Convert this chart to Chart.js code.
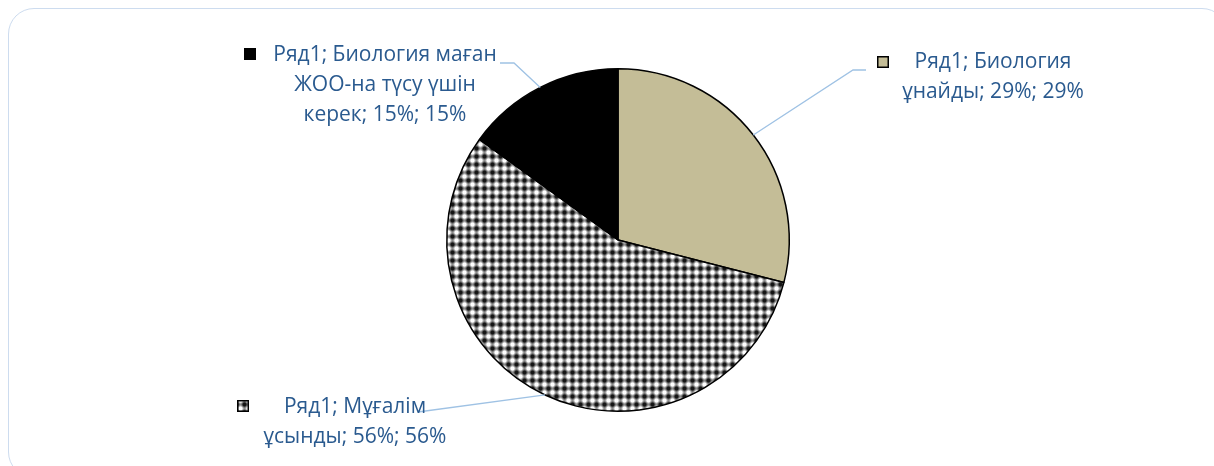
<!DOCTYPE html>
<html>
<head>
<meta charset="utf-8">
<script src="https://cdn.jsdelivr.net/npm/chart.js@4/dist/chart.umd.min.js"></script>
<style>
  html, body { margin: 0; padding: 0; background: #fff; }
  #wrap { position: relative; width: 1214px; height: 466px; overflow: hidden; }
  #frame { position: absolute; left: 8px; top: 8px; width: 1220px; height: 470px; box-sizing: border-box;
           border: 1.5px solid #cddcef; border-radius: 26px; }
  canvas { position: absolute; left: 0; top: 0; }
</style>
</head>
<body>
<div id="wrap">
  <div id="frame"></div>
  <canvas id="c" width="1214" height="466"></canvas>
</div>
<script>
const seriesName = "Ряд1";
const categories = ["Биология ұнайды", "Мұғалім ұсынды", "Биология маған ЖОО-на түсу үшін керек"];
const values = [29, 56, 15];
const percentLabels = ["29%", "56%", "15%"];
const labelLines = [
  ["Ряд1; Биология", "ұнайды; 29%; 29%"],
  ["Ряд1; Мұғалім", "ұсынды; 56%; 56%"],
  ["Ряд1; Биология маған", "ЖОО-на түсу үшін", "керек; 15%; 15%"]
];

function makePattern() {
  const n = 8;
  const t = document.createElement('canvas');
  t.width = n; t.height = n;
  const g = t.getContext('2d');
  const img = g.createImageData(n, n);
  for (let y = 0; y < n; y++) {
    for (let x = 0; x < n; x++) {
      const cx = Math.cos(2 * Math.PI * x / n), cy = Math.cos(2 * Math.PI * y / n);
      let v = 0.55 + 0.32 * (cx + cy);
      v = Math.max(0.08, Math.min(1, v));
      const c = Math.round(v * 255);
      const i = (y * n + x) * 4;
      img.data[i] = c; img.data[i + 1] = c; img.data[i + 2] = c; img.data[i + 3] = 255;
    }
  }
  g.putImageData(img, 0, 0);
  return document.getElementById('c').getContext('2d').createPattern(t, 'repeat');
}
const hatch = makePattern();
const colors = ['#c4bd97', hatch, '#000000'];

const labelFont = '21px "Open Sans", "Noto Sans", sans-serif';
const textColor = '#2a5a8f';
// layout of the outside labels (canvas pixels)
const labelLayout = [
  { cx: 993, y: 62, keyX: 877, keyY: 56, elbow: [[853, 70], [866, 70]] },
  { cx: 355, y: 407, keyX: 237, keyY: 400, elbow: [[418, 412]] },
  { cx: 385, y: 55, keyX: 244, keyY: 48, elbow: [[514, 63], [500, 63]] }
];

const labelPlugin = {
  id: 'outLabels',
  afterDatasetsDraw(chart) {
    const ctx = chart.ctx;
    const meta = chart.getDatasetMeta(0);
    ctx.save();
    meta.data.forEach((arc, i) => {
      const p = arc.getProps(['x', 'y', 'startAngle', 'endAngle', 'outerRadius'], true);
      const mid = (p.startAngle + p.endAngle) / 2;
      const sx = p.x + Math.cos(mid) * p.outerRadius;
      const sy = p.y + Math.sin(mid) * p.outerRadius;
      const L = labelLayout[i];
      ctx.strokeStyle = '#9fc2e4';
      ctx.lineWidth = 1.3;
      ctx.beginPath();
      ctx.moveTo(sx, sy);
      L.elbow.forEach(pt => ctx.lineTo(pt[0], pt[1]));
      ctx.stroke();
      // key square
      ctx.fillStyle = colors[i];
      ctx.fillRect(L.keyX, L.keyY, 12, 12);
      if (i !== 2) {
        ctx.strokeStyle = '#000';
        ctx.lineWidth = 1.5;
        ctx.strokeRect(L.keyX + 0.75, L.keyY + 0.75, 10.5, 10.5);
      }
      // text
      ctx.fillStyle = textColor;
      ctx.font = labelFont;
      ctx.textAlign = 'center';
      ctx.textBaseline = 'middle';
      labelLines[i].forEach((line, k) => ctx.fillText(line, L.cx, L.y + k * 30));
    });
    ctx.restore();
  }
};

new Chart(document.getElementById('c'), {
  type: 'pie',
  data: {
    labels: categories,
    datasets: [{
      label: seriesName,
      data: values,
      backgroundColor: colors,
      borderColor: '#000000',
      borderWidth: 1.5
    }]
  },
  options: {
    responsive: false,
    animation: false,
    layout: { padding: { left: 22, right: 0, top: 68, bottom: 54 } },
    plugins: { legend: { display: false }, tooltip: { enabled: false } }
  },
  plugins: [labelPlugin]
});
</script>
</body>
</html>
